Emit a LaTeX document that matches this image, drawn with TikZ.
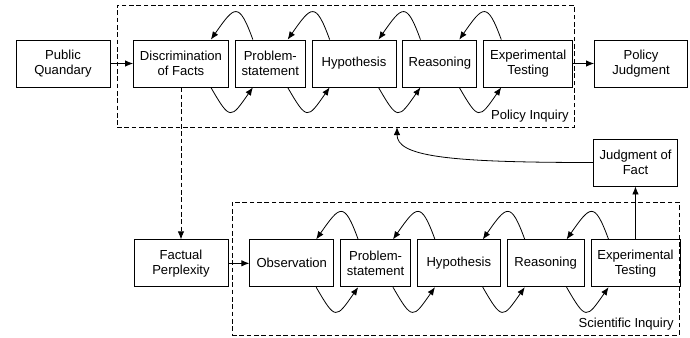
\documentclass[tikz,border=0pt]{standalone}
\usepackage{fontspec}
\setmainfont{Liberation Sans}
\usetikzlibrary{positioning,arrows.meta}

\begin{document}
\begin{tikzpicture}[
    x=0.75pt,y=-0.75pt,
    font=\fontsize{9.8}{11.5}\selectfont,
    >={Latex[length=6pt,width=4.8pt]},
    stage/.style={rectangle,draw,semithick,align=center,minimum height=35.25pt,inner sep=2pt},
    inquiry/.style={rectangle,draw,semithick,dash pattern=on 3.5pt off 2pt},
    recur/.style={->,semithick,out=110,in=55,distance=31pt},
    proceed/.style={->,semithick,out=-60,in=-125,distance=29pt}
]
    \useasboundingbox (0,0) rectangle (690,337);

    % Define inquiry frames
    \node[inquiry,minimum width=342.75pt,minimum height=91.5pt] (pi) at (345.5,66) {};
    \node[inquiry,minimum width=335.25pt,minimum height=99.75pt] (si) at (455.5,268.5) {};
    \node[anchor=south east,inner sep=4pt] (pilab) at (pi.south east) {Policy Inquiry};
    \node[anchor=south east,inner sep=4pt] (silab) at (si.south east) {Scientific Inquiry};
    \coordinate (pit) at (397,127);

    % Define nodes, policy row
    \node[stage,minimum width=70.5pt] (pq) at (63,63.5) {Public\\Quandary};
    \node[stage,minimum width=71.25pt] (df) [right=17pt of pq] {Discrimination\\of Facts};
    \node[stage,minimum width=52.5pt] (ps1) [right=4.5pt of df] {Problem-\\statement};
    \node[stage,minimum width=63pt] (hy1) [right=4.5pt of ps1] {Hypothesis};
    \node[stage,minimum width=55.5pt] (re1) [right=4.5pt of hy1] {Reasoning};
    \node[stage,minimum width=66.75pt] (et1) [right=4.5pt of re1] {Experimental\\Testing};
    \node[stage,minimum width=69.75pt] (pj) [right=15.75pt of et1] {Policy\\Judgment};

    % Define nodes, scientific row
    \node[stage,minimum width=70.5pt] (fp) [below=114pt of df] {Factual\\Perplexity};
    \node[stage,minimum width=63pt] (ob) [right=15.75pt of fp] {Observation};
    \node[stage,minimum width=52.5pt] (ps2) [right=4.5pt of ob] {Problem-\\statement};
    \node[stage,minimum width=62.25pt] (hy2) [right=4.5pt of ps2] {Hypothesis};
    \node[stage,minimum width=57.75pt] (re2) [right=4.5pt of hy2] {Reasoning};
    \node[stage,minimum width=66.75pt] (et2) [right=4.5pt of re2] {Experimental\\Testing};
    \node[stage,minimum width=63pt] (jf) [above=39.75pt of et2] {Judgment of\\Fact};

    % Draw arrows and connections
    \draw[->,semithick] (pq) -- (df);
    \draw[->,semithick] (et1) -- (pj);
    \draw[->,semithick,dash pattern=on 3.5pt off 2pt] (df) -- (fp);
    \draw[->,semithick] (fp) -- (ob);
    \draw[->,semithick] (et2) -- (jf);
    \draw[->,semithick] (jf.west) to[out=180,in=-90,out distance=110pt,in distance=22pt] (pit);

    % Back and forth loops, policy row
    \draw[recur] ([xshift=13.5pt]ps1.north west) to ([xshift=-13.5pt]df.north east);
    \draw[recur] ([xshift=13.5pt]hy1.north west) to ([xshift=-13.5pt]ps1.north east);
    \draw[recur] ([xshift=13.5pt]re1.north west) to ([xshift=-13.5pt]hy1.north east);
    \draw[recur] ([xshift=13.5pt]et1.north west) to ([xshift=-13.5pt]re1.north east);
    \draw[proceed] ([xshift=-13.5pt]df.south east) to ([xshift=13.5pt]ps1.south west);
    \draw[proceed] ([xshift=-13.5pt]ps1.south east) to ([xshift=13.5pt]hy1.south west);
    \draw[proceed] ([xshift=-13.5pt]hy1.south east) to ([xshift=13.5pt]re1.south west);
    \draw[proceed] ([xshift=-13.5pt]re1.south east) to ([xshift=13.5pt]et1.south west);

    % Back and forth loops, scientific row
    \draw[recur] ([xshift=13.5pt]ps2.north west) to ([xshift=-13.5pt]ob.north east);
    \draw[recur] ([xshift=13.5pt]hy2.north west) to ([xshift=-13.5pt]ps2.north east);
    \draw[recur] ([xshift=13.5pt]re2.north west) to ([xshift=-13.5pt]hy2.north east);
    \draw[recur] ([xshift=13.5pt]et2.north west) to ([xshift=-13.5pt]re2.north east);
    \draw[proceed] ([xshift=-13.5pt]ob.south east) to ([xshift=13.5pt]ps2.south west);
    \draw[proceed] ([xshift=-13.5pt]ps2.south east) to ([xshift=13.5pt]hy2.south west);
    \draw[proceed] ([xshift=-13.5pt]hy2.south east) to ([xshift=13.5pt]re2.south west);
    \draw[proceed] ([xshift=-13.5pt]re2.south east) to ([xshift=13.5pt]et2.south west);
\end{tikzpicture}
\end{document}
